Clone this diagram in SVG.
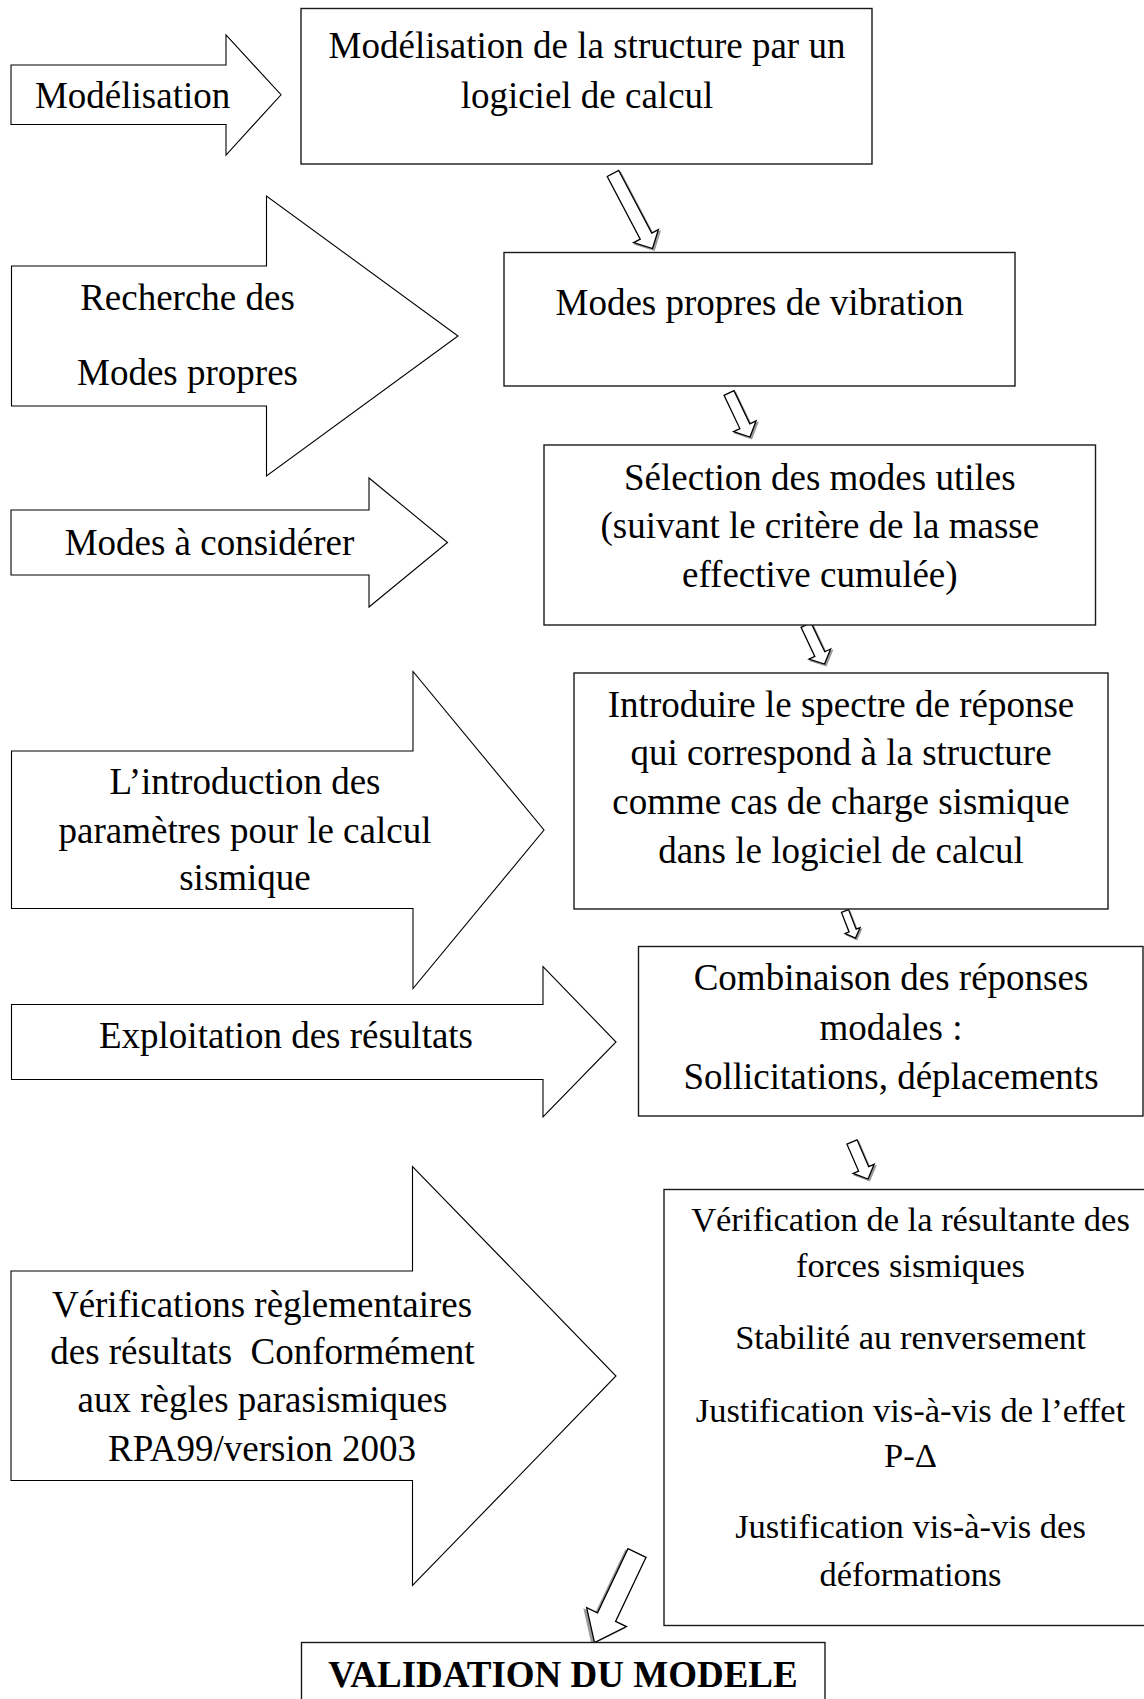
<svg xmlns="http://www.w3.org/2000/svg" width="1144" height="1699" viewBox="0 0 1144 1699">
<style>
  .bg { fill: #ffffff; }
  .box { fill: #ffffff; stroke: #1a1a1a; stroke-width: 1.4; }
  .big { fill: #ffffff; stroke: #000000; stroke-width: 1.1; stroke-linejoin: miter; }
  .sa { fill: #ffffff; stroke: #000000; stroke-width: 1.3; stroke-linejoin: miter; }
  .sh { fill: #9a9a9a; stroke: #9a9a9a; stroke-width: 1.3; }
  text { font-family: "Liberation Serif", "Times New Roman", serif; font-size: 37px; fill: #000000; text-anchor: middle; }
  .sm { font-size: 34.5px; }
  .bold { font-weight: bold; }
</style>
<rect class="bg" x="0" y="0" width="1144" height="1699"/>

<g id="connectors">
  <g id="arrow-1" transform="translate(613,173.5) rotate(62.23)">
    <path class="sh" transform="translate(2.2,-0.8)" d="M0,-6.5 H70.8 V-14 L84.8,0 L70.8,14 V6.5 H0 Z"/>
    <path class="sa" d="M0,-6.5 H70.8 V-14 L84.8,0 L70.8,14 V6.5 H0 Z"/>
  </g>
  <g id="arrow-2" transform="translate(729,393) rotate(64.5)">
    <path class="sh" transform="translate(2.2,-0.8)" d="M0,-5.5 H36.8 V-12.5 L48.8,0 L36.8,12.5 V5.5 H0 Z"/>
    <path class="sa" d="M0,-5.5 H36.8 V-12.5 L48.8,0 L36.8,12.5 V5.5 H0 Z"/>
  </g>
  <g id="arrow-3" transform="translate(806,625) rotate(64.6)">
    <path class="sh" transform="translate(2.2,-0.8)" d="M0,-5.5 H32.2 V-12 L43.2,0 L32.2,12 V5.5 H0 Z"/>
    <path class="sa" d="M0,-5.5 H32.2 V-12 L43.2,0 L32.2,12 V5.5 H0 Z"/>
  </g>
  <g id="arrow-4" transform="translate(845,911) rotate(68.75)">
    <path class="sh" transform="translate(2,-0.7)" d="M0,-3.8 H21 V-8 L29,0 L21,8 V3.8 H0 Z"/>
    <path class="sa" d="M0,-3.8 H21 V-8 L29,0 L21,8 V3.8 H0 Z"/>
  </g>
  <g id="arrow-5" transform="translate(852,1142) rotate(66.6)">
    <path class="sh" transform="translate(2.2,-0.8)" d="M0,-5.5 H29.3 V-11.5 L40.3,0 L29.3,11.5 V5.5 H0 Z"/>
    <path class="sa" d="M0,-5.5 H29.3 V-11.5 L40.3,0 L29.3,11.5 V5.5 H0 Z"/>
  </g>
  <g id="arrow-6" transform="translate(637,1553) rotate(115.4)">
    <path class="sh" transform="translate(2.5,1.5)" d="M0,-10 H71 V-22 L99.1,0 L71,22 V10 H0 Z"/>
    <path class="sa" d="M0,-10 H71 V-22 L99.1,0 L71,22 V10 H0 Z"/>
  </g>
</g>

<g id="step-modelisation">
  <path class="big" d="M11,65 H226 V35 L281,94.75 L226,155 V124.5 H11 Z"/>
  <text x="132.6" y="108">Modélisation</text>
</g>

<g id="box-modelisation">
  <rect class="box" x="301" y="8.5" width="571" height="155.5"/>
  <text x="587" y="57.5">Modélisation de la structure par un</text>
  <text x="587" y="108">logiciel de calcul</text>
</g>

<g id="step-recherche">
  <path class="big" d="M11.5,266 H266.5 V196 L458,336 L266.5,476 V406 H11.5 Z"/>
  <text x="187.5" y="309.5">Recherche des</text>
  <text x="187.5" y="384.5">Modes propres</text>
</g>

<g id="box-modes-propres">
  <rect class="box" x="504" y="252.5" width="511" height="133.5"/>
  <text x="759.5" y="314.5">Modes propres de vibration</text>
</g>

<g id="step-modes-considerer">
  <path class="big" d="M11,510 H369 V478 L447.5,542.5 L369,607 V575 H11 Z"/>
  <text x="209.5" y="554.5">Modes à considérer</text>
</g>

<g id="box-selection">
  <rect class="box" x="544" y="445" width="551.5" height="180"/>
  <text x="819.8" y="489.5">Sélection des modes utiles</text>
  <text x="819.8" y="538">(suivant le critère de la masse</text>
  <text x="819.8" y="587">effective cumulée)</text>
</g>

<g id="step-introduction">
  <path class="big" d="M11.5,751 H413 V671.5 L544,830 L413,988.5 V908.5 H11.5 Z"/>
  <text x="245" y="794">L’introduction des</text>
  <text x="245" y="843">paramètres pour le calcul</text>
  <text x="245" y="890">sismique</text>
</g>

<g id="box-spectre">
  <rect class="box" x="574" y="673" width="534" height="236"/>
  <text x="841" y="716.5">Introduire le spectre de réponse</text>
  <text x="841" y="765">qui correspond à la structure</text>
  <text x="841" y="814">comme cas de charge sismique</text>
  <text x="841" y="863">dans le logiciel de calcul</text>
</g>

<g id="step-exploitation">
  <path class="big" d="M11.5,1004.5 H543 V966.5 L616,1042 L543,1117 V1079.5 H11.5 Z"/>
  <text x="286" y="1048">Exploitation des résultats</text>
</g>

<g id="box-combinaison">
  <rect class="box" x="638.5" y="946.5" width="504.5" height="169.5"/>
  <text x="891" y="989.5">Combinaison des réponses</text>
  <text x="891" y="1039.5">modales :</text>
  <text x="891" y="1089">Sollicitations, déplacements</text>
</g>

<g id="step-verifications">
  <path class="big" d="M11,1271 H412.5 V1166.5 L616,1376 L412.5,1585.5 V1480.5 H11 Z"/>
  <text x="262" y="1316.5">Vérifications règlementaires</text>
  <text x="262.4" y="1364" xml:space="preserve">des résultats  Conformément</text>
  <text x="262.5" y="1412">aux règles parasismiques</text>
  <text x="262" y="1460.5">RPA99/version 2003</text>
</g>

<g id="box-verifications">
  <rect class="box" x="664" y="1189.5" width="500" height="436"/>
  <text class="sm" x="910.5" y="1231">Vérification de la résultante des</text>
  <text class="sm" x="910.5" y="1277">forces sismiques</text>
  <text class="sm" x="910.5" y="1349">Stabilité au renversement</text>
  <text class="sm" x="910.5" y="1422">Justification vis-à-vis de l’effet</text>
  <text class="sm" x="910.5" y="1467">P-Δ</text>
  <text class="sm" x="910.5" y="1538">Justification vis-à-vis des</text>
  <text class="sm" x="910.5" y="1586">déformations</text>
</g>

<g id="box-validation">
  <rect class="box" x="301.5" y="1642.5" width="523.5" height="90"/>
  <text class="bold" x="563" y="1687">VALIDATION DU MODELE</text>
</g>
</svg>
